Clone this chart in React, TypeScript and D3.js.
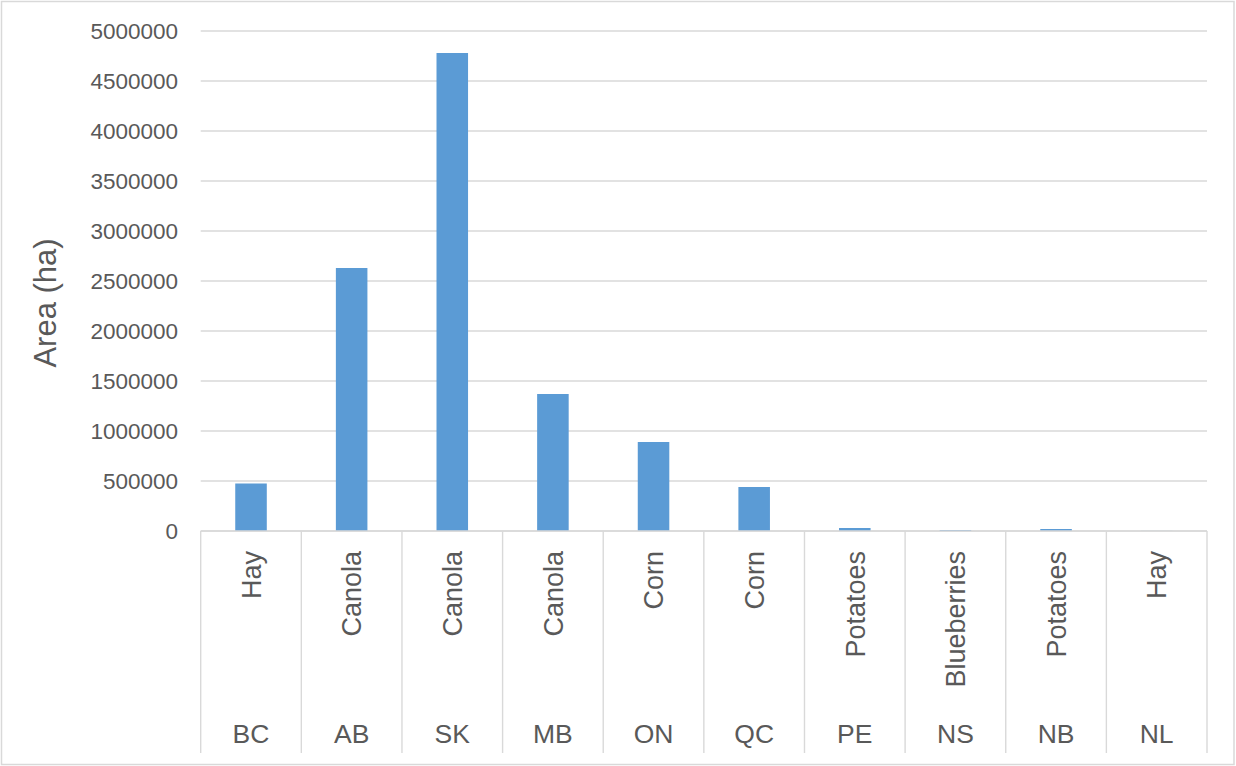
import React from "react";
import * as d3 from "d3";

// Largest field crop by province (area, hectares)
const regions = ["BC", "AB", "SK", "MB", "ON", "QC", "PE", "NS", "NB", "NL"];
const crops = ["Hay", "Canola", "Canola", "Canola", "Corn", "Corn", "Potatoes", "Blueberries", "Potatoes", "Hay"];
const areas = [475000, 2630000, 4780000, 1370000, 890000, 440000, 30000, 10000, 20000, 1000];
const yTicks = [0, 500000, 1000000, 1500000, 2000000, 2500000, 3000000, 3500000, 4000000, 4500000, 5000000];

const W = 1236;
const H = 766;
const plot = { left: 200.7, right: 1207, top: 31, bottom: 531 };
const axisBottom = 753;
const FONT = "'Liberation Sans', Arial, sans-serif";
const TEXT = "#595959";
const GRID = "#d9d9d9";
const BAR = "#5B9BD5";

export default function App() {
  const x = d3.scaleBand<string>().domain(regions).range([plot.left, plot.right]).paddingInner(0).paddingOuter(0);
  const y = d3.scaleLinear().domain([0, 5000000]).range([plot.bottom, plot.top]);
  const bw = x.bandwidth() / 3.19;
  const edges = regions.map((r) => x(r) as number).concat([plot.right]);

  return (
    <svg
      width={W}
      height={H}
      style={{ position: "absolute", left: 0, top: 0, background: "#fff" }}
      fontFamily={FONT}
    >
      <rect x={1.5} y={1.5} width={W - 3.5} height={H - 3} fill="#fff" stroke={GRID} strokeWidth={1.5} />

      {/* gridlines and value labels */}
      {yTicks.map((t) => (
        <g key={t}>
          <line x1={plot.left} x2={plot.right} y1={y(t)} y2={y(t)} stroke={GRID} strokeWidth={1.4} />
          <text x={178} y={y(t)} dy="0.36em" textAnchor="end" fontSize={22.5} fill={TEXT}>
            {t}
          </text>
        </g>
      ))}

      {/* bars */}
      {regions.map((r, i) => {
        const cx = (x(r) as number) + x.bandwidth() / 2;
        return (
          <rect key={r} x={cx - bw / 2} y={y(areas[i])} width={bw} height={y(0) - y(areas[i])} fill={BAR} />
        );
      })}

      {/* two-level category axis */}
      <line x1={plot.left} x2={plot.right} y1={plot.bottom} y2={plot.bottom} stroke={GRID} strokeWidth={1.4} />
      {edges.map((e, i) => (
        <line key={i} x1={e} x2={e} y1={plot.bottom} y2={axisBottom} stroke={GRID} strokeWidth={1.4} />
      ))}
      {regions.map((r, i) => {
        const cx = (x(r) as number) + x.bandwidth() / 2;
        return (
          <g key={r}>
            <text
              transform={`translate(${cx},551) rotate(-90)`}
              dy="0.36em"
              textAnchor="end"
              fontSize={27}
              fill={TEXT}
            >
              {crops[i]}
            </text>
            <text x={cx} y={742.5} textAnchor="middle" fontSize={26.5} fill={TEXT}>
              {r}
            </text>
          </g>
        );
      })}

      <text transform="translate(45,303) rotate(-90)" dy="0.36em" textAnchor="middle" fontSize={31} fill={TEXT}>
        Area (ha)
      </text>
    </svg>
  );
}
